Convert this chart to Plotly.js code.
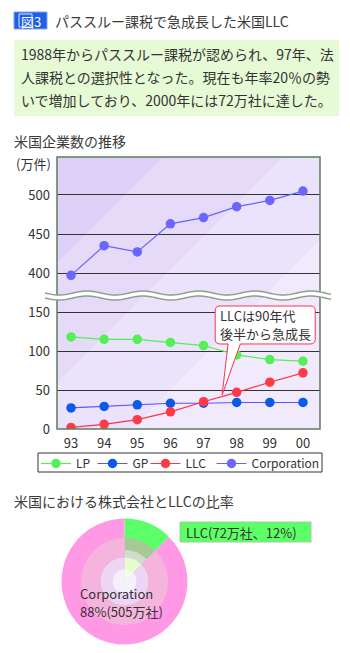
<!DOCTYPE html>
<html><head><meta charset="utf-8">
<script src="https://cdn.plot.ly/plotly-3.0.1.min.js"></script>
<style>html,body{margin:0;padding:0;background:#fff;}#chart{width:350px;height:653px;}</style>
</head><body><div id="chart"></div>
<script>
// ---- data ----
const years = [1993, 1994, 1995, 1996, 1997, 1998, 1999, 2000];
const yearLabels = ['93', '94', '95', '96', '97', '98', '99', '00'];
const lp = [118, 115, 115, 111, 107, 95, 89, 87];
const gp = [27, 29, 31, 33, 33, 34, 34, 34];
const llc = [2, 6, 12, 22, 35, 47, 60, 72];
const corporation = [397, 435, 427, 463, 471, 485, 493, 505];
const lowerTicks = [0, 50, 100, 150];
const upperTicks = [400, 450, 500];
const pieLabels = ['LLC', 'Corporation'];
const pieValues = [72, 505];

// ---- helpers ----
const W = 350, H = 653;
const px = x => x / W;
const py = y => 1 - y / H;
const FONT = "'Noto Sans CJK JP', 'Noto Sans', sans-serif";
const TXT = '#333333';

function pathPaper(pts, close) {
  return pts.map((p, i) => (i ? 'L' : 'M') + px(p[0]).toFixed(5) + ',' + py(p[1]).toFixed(5)).join(' ') + (close ? ' Z' : '');
}
// clip plot rect against half-plane x+y<=c (pixel coords)
function clipBand(c) {
  const rect = [[57, 157], [320, 157], [320, 429], [57, 429]];
  const out = [];
  for (let i = 0; i < rect.length; i++) {
    const a = rect[i], b = rect[(i + 1) % rect.length];
    const ina = a[0] + a[1] <= c, inb = b[0] + b[1] <= c;
    if (ina) out.push(a);
    if (ina !== inb) {
      const t = (c - a[0] - a[1]) / ((b[0] + b[1]) - (a[0] + a[1]));
      out.push([a[0] + t * (b[0] - a[0]), a[1] + t * (b[1] - a[1])]);
    }
  }
  return out;
}
function wave(yc, x0, x1) {
  const pts = [];
  for (let x = x0; x <= x1 + 0.01; x += 2) pts.push([x, yc + 2 * Math.sin((x - x0) / 56 * 2 * Math.PI)]);
  return pts;
}

// ---- traces ----
const mk = (name, y, color, lineColor, xa, ya, lg) => ({
  type: 'scatter', mode: 'lines+markers', name: name, x: years, y: y,
  xaxis: xa, yaxis: ya, legend: lg,
  line: {color: lineColor, width: 1.2},
  marker: {color: color, size: 9.5, line: {width: 0}},
  hoverinfo: 'skip'
});
const traces = [
  mk('LP', lp, '#55f055', '#55ee55', 'x', 'y', 'legend'),
  mk('GP', gp, '#0a5ae8', '#5a55ff', 'x', 'y', 'legend2'),
  mk('LLC', llc, '#ff3a48', '#ff3344', 'x', 'y', 'legend3'),
  mk('Corporation', corporation, '#6a66ff', '#6a60ff', 'x2', 'y2', 'legend4')
];

// pie rings (concentric, largest first)
const rings = [
  {r: 1.00, c: ['#5cff6a', '#ff99e6']},
  {r: 0.69, c: ['#a8c896', '#f4b4dc']},
  {r: 0.50, c: ['#d2dbcd', '#f4b4dc']},
  {r: 0.38, c: ['#e8fcd0', '#ecd6f4']},
  {r: 0.19, c: ['#f2fde6', '#f6f0fc']}
];
rings.forEach(rg => {
  const R = 63 * rg.r, cx = 124.5, cy = 581.5;
  traces.push({
    type: 'pie', labels: pieLabels, values: pieValues, sort: false,
    direction: 'clockwise', rotation: 0, textinfo: 'none', hoverinfo: 'skip',
    showlegend: false,
    marker: {colors: rg.c, line: {width: 0}},
    domain: {x: [(cx - R) / W, (cx + R) / W], y: [1 - (cy + R) / H, 1 - (cy - R) / H]}
  });
});

// ---- shapes ----
const shapes = [];
// header green box
shapes.push({type: 'rect', xref: 'paper', yref: 'paper', x0: px(14), x1: px(339), y0: py(116), y1: py(40),
  fillcolor: '#e6fad6', line: {width: 0}, layer: 'below'});
// badge
shapes.push({type: 'rect', xref: 'paper', yref: 'paper', x0: px(14), x1: px(47), y0: py(29), y1: py(12),
  fillcolor: '#1f5fe8', line: {width: 1, color: '#7fa4ff'}, layer: 'below'});
shapes.push({type: 'rect', xref: 'paper', yref: 'paper', x0: px(19), x1: px(32), y0: py(27), y1: py(14),
  fillcolor: 'rgba(0,0,0,0)', line: {width: 1, color: '#dfe8ff'}, layer: 'below'});
// LLC label box
shapes.push({type: 'rect', xref: 'paper', yref: 'paper', x0: px(180), x1: px(311), y0: py(542), y1: py(522),
  fillcolor: '#5cff66', line: {width: 1, color: '#a8c8a0'}, layer: 'below'});
// legend box
shapes.push({type: 'rect', xref: 'paper', yref: 'paper', x0: px(38), x1: px(322), y0: py(472), y1: py(453),
  fillcolor: '#ffffff', line: {width: 1, color: '#333333'}, layer: 'below'});
// background diagonal bands (darker toward top-left)
[[560, '#ebe2fb'], [440, '#e5dbf9'], [320, '#ddd1f7']].forEach(b => {
  shapes.push({type: 'path', xref: 'paper', yref: 'paper', path: pathPaper(clipBand(b[0]), true),
    fillcolor: b[1], line: {width: 0}, layer: 'below'});
});
// plot border
shapes.push({type: 'rect', xref: 'paper', yref: 'paper', x0: px(57), x1: px(320), y0: py(429), y1: py(157),
  fillcolor: 'rgba(0,0,0,0)', line: {width: 1.5, color: '#5d7d5d'}, layer: 'above'});
// axis break
const wTop = wave(293, 45, 331), wBot = wave(298, 45, 331);
shapes.push({type: 'path', xref: 'paper', yref: 'paper', path: pathPaper(wTop.concat(wBot.slice().reverse()), true),
  fillcolor: '#ffffff', line: {width: 0}, layer: 'above'});
shapes.push({type: 'path', xref: 'paper', yref: 'paper', path: pathPaper(wTop, false),
  line: {width: 1.5, color: '#8e9e8e'}, layer: 'above'});
shapes.push({type: 'path', xref: 'paper', yref: 'paper', path: pathPaper(wBot, false),
  line: {width: 1.5, color: '#8e9e8e'}, layer: 'above'});
// callout (lower subplot data coordinates)
(function () {
  const L = 1997.35, R = 2000.37, T = 157.7, B = 109.0, rx = 0.15, ry = 6.4;
  const w1 = 1997.74, w2 = 1998.11, tx = 1997.56, ty = 43.6;
  const p = `M ${L + rx},${T} L ${R - rx},${T} Q ${R},${T} ${R},${T - ry} L ${R},${B + ry} Q ${R},${B} ${R - rx},${B} ` +
    `L ${w2},${B} L ${tx},${ty} L ${w1},${B} L ${L + rx},${B} Q ${L},${B} ${L},${B + ry} L ${L},${T - ry} Q ${L},${T} ${L + rx},${T} Z`;
  shapes.push({type: 'path', xref: 'x', yref: 'y', path: p, fillcolor: '#ffffff',
    line: {width: 1, color: '#ff3050'}, layer: 'above'});
})();

// ---- annotations ----
const ann = (text, x, y, size, color, extra) => Object.assign({
  text: text, xref: 'paper', yref: 'paper', x: px(x), y: py(y), xanchor: 'left', yanchor: 'middle',
  showarrow: false, font: {family: FONT, size: size, color: color || TXT}, align: 'left', borderpad: 0
}, extra || {});
const annotations = [
  ann('図3', 31, 21, 13, '#ffffff', {xanchor: 'center'}),
  ann('パススルー課税で急成長した米国LLC', 54, 21, 14, '#3a3a3a'),
  ann('1988年からパススルー課税が認められ、97年、法', 20, 54, 14),
  ann('人課税との選択性となった。現在も年率20％の勢', 20, 77, 14),
  ann('いで増加しており、2000年には72万社に達した。', 20, 100, 14),
  ann('米国企業数の推移', 13, 141, 14, '#3a3a3a'),
  ann('(万件)', 15, 164, 13),
  ann('米国における株式会社とLLCの比率', 13, 501, 14, '#3a3a3a'),
  ann('LLC(72万社、12%)', 185, 532, 13),
  ann('Corporation', 79, 593, 13),
  ann('88%(505万社)', 79, 611, 13),
  ann('LLCは90年代', 219, 315.5, 13),
  ann('後半から急成長', 219, 333, 13)
];

// ---- layout ----
const tickFont = {family: FONT, size: 13, color: TXT};
const legendAt = x => ({orientation: 'h', x: px(x), y: py(449), xanchor: 'left', yanchor: 'top',
  bgcolor: 'rgba(0,0,0,0)', borderwidth: 0,
  font: {family: FONT, size: 12, color: TXT}, itemwidth: 30});
const layout = {
  width: W, height: H, margin: {l: 0, r: 0, t: 0, b: 0, pad: 0},
  paper_bgcolor: '#ffffff', plot_bgcolor: '#f1eafc',
  hovermode: false, dragmode: false,
  xaxis: {domain: [px(57), px(320)], range: [1992.577, 2000.514], anchor: 'y',
    tickvals: years, ticktext: yearLabels, showgrid: false, zeroline: false, showline: false,
    ticks: '', ticklabelstandoff: 5, tickfont: tickFont, fixedrange: true},
  xaxis2: {domain: [px(57), px(320)], range: [1992.577, 2000.514], anchor: 'y2', matches: 'x',
    visible: false, fixedrange: true},
  yaxis: {domain: [py(429), py(295)], range: [0, 171.8], anchor: 'x', tickvals: lowerTicks,
    gridcolor: '#333333', gridwidth: 1, zeroline: false, showline: false, ticks: '',
    ticklabelstandoff: 6, tickfont: tickFont, fixedrange: true},
  yaxis2: {domain: [py(295), py(157)], range: [371.8, 548.7], anchor: 'x2', tickvals: upperTicks,
    gridcolor: '#333333', gridwidth: 1, zeroline: false, showline: false, ticks: '',
    ticklabelstandoff: 6, tickfont: tickFont, fixedrange: true},
  showlegend: true,
  legend: legendAt(36),
  legend2: legendAt(92.5),
  legend3: legendAt(145.5),
  legend4: legendAt(211.5),
  shapes: shapes,
  annotations: annotations
};

Plotly.newPlot('chart', traces, layout, {displayModeBar: false, staticPlot: true});
</script>
</body></html>
